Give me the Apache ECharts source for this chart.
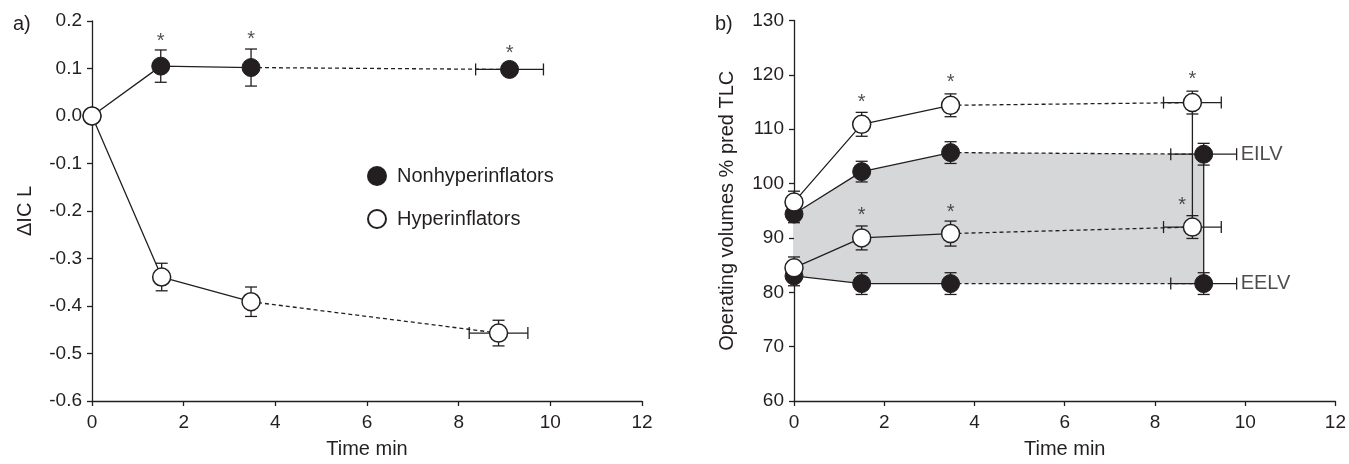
<!DOCTYPE html>
<html>
<head>
<meta charset="utf-8">
<script src="https://cdn.jsdelivr.net/npm/echarts@6/dist/echarts.min.js"></script>
<style>
html,body{margin:0;padding:0;background:#fff;}
#c{width:1349px;height:464px;}
</style>
</head>
<body>
<div id="c"></div>
<script>
// ---------- Panel a) ΔIC ----------
const timeNonA   = [0, 1.5, 3.47, 9.11];
const timeNonAErr= [0, 0, 0, 0.74];
const dicNon     = [0, 0.105, 0.102, 0.098];
const dicNonErr  = [0, 0.034, 0.039, 0.013];

const timeHypA   = [0, 1.52, 3.47, 8.87];
const timeHypAErr= [0, 0, 0, 0.64];
const dicHyp     = [0, -0.339, -0.391, -0.457];
const dicHypErr  = [0, 0.029, 0.031, 0.027];

const starsA = [[1.5, 0.156], [3.47, 0.162], [9.11, 0.132]];

// ---------- Panel b) operating volumes ----------
const timeNonB    = [0, 1.5, 3.47, 9.08];
const timeNonBErr = [0, 0, 0, 0.73];
const eilvNon     = [94.4, 102.2, 105.7, 105.4];
const eilvNonErr  = [1.6, 1.9, 2.0, 2.0];
const eelvNon     = [83.0, 81.6, 81.6, 81.6];
const eelvNonErr  = [1.8, 2.0, 2.0, 2.0];

const timeHypB    = [0, 1.5, 3.47, 8.83];
const timeHypBErr = [0, 0, 0, 0.64];
const eilvHyp     = [96.6, 110.9, 114.4, 114.9];
const eilvHypErr  = [2.0, 2.2, 2.1, 2.1];
const eelvHyp     = [84.5, 90.0, 90.8, 92.0];
const eelvHypErr  = [2.0, 2.2, 2.3, 2.1];

const starsB = [[1.5, 115.0], [3.47, 118.6], [8.83, 119.2], [1.5, 94.1], [3.47, 94.7], [8.6, 95.9]];
const volLabels = [[9.9, 105.4, 'EILV'], [9.9, 81.6, 'EELV']];

// ---------- styling ----------
const INK = '#231f20';
const FONT = "'Liberation Sans', Arial, Helvetica, sans-serif";
const LW = 1.3;

function pts(xs, ys, from, to) {
  const out = [];
  for (let i = from; i <= to; i++) out.push([xs[i], ys[i]]);
  return out;
}
function errData(xs, ys, exs, eys) {
  return xs.map((x, i) => [x, ys[i], exs[i], eys[i]]);
}
function errRender(params, api) {
  const x = api.value(0), y = api.value(1), ex = api.value(2), ey = api.value(3);
  const st = { stroke: INK, lineWidth: LW };
  const cap = 6;
  const ch = [];
  if (ey > 0) {
    const t = api.coord([x, y + ey]), b = api.coord([x, y - ey]);
    ch.push({ type: 'line', shape: { x1: t[0], y1: t[1], x2: b[0], y2: b[1] }, style: st });
    ch.push({ type: 'line', shape: { x1: t[0] - cap, y1: t[1], x2: t[0] + cap, y2: t[1] }, style: st });
    ch.push({ type: 'line', shape: { x1: b[0] - cap, y1: b[1], x2: b[0] + cap, y2: b[1] }, style: st });
  }
  if (ex > 0) {
    const l = api.coord([x - ex, y]), r = api.coord([x + ex, y]);
    ch.push({ type: 'line', shape: { x1: l[0], y1: l[1], x2: r[0], y2: r[1] }, style: st });
    ch.push({ type: 'line', shape: { x1: l[0], y1: l[1] - cap, x2: l[0], y2: l[1] + cap }, style: st });
    ch.push({ type: 'line', shape: { x1: r[0], y1: r[1] - cap, x2: r[0], y2: r[1] + cap }, style: st });
  }
  return { type: 'group', children: ch };
}
function errSeries(idx, data) {
  return { type: 'custom', xAxisIndex: idx, yAxisIndex: idx, renderItem: errRender, data: data, clip: false, z: 2, silent: true };
}
function lineSeries(idx, data, dashed) {
  return { type: 'line', xAxisIndex: idx, yAxisIndex: idx, data: data, symbol: 'none', z: 3, silent: true,
    lineStyle: { color: INK, width: LW, type: dashed ? [4, 3] : 'solid' } };
}
function markerSeries(idx, name, data, open, z) {
  return { type: 'scatter', name: name, xAxisIndex: idx, yAxisIndex: idx, data: data, symbol: 'circle', symbolSize: 18, z: z,
    itemStyle: open ? { color: '#ffffff', borderColor: INK, borderWidth: 1.5, opacity: 1 } : { color: INK, borderColor: INK, borderWidth: 1, opacity: 1 } };
}
function starSeries(idx, data) {
  return { type: 'scatter', xAxisIndex: idx, yAxisIndex: idx, data: data, symbolSize: 0, z: 6, silent: true,
    label: { show: true, position: 'inside', formatter: '*', color: INK, fontSize: 20, fontFamily: FONT } };
}
function xAxis(gi) {
  return { type: 'value', gridIndex: gi, min: 0, max: 12, interval: 2, name: 'Time min', nameLocation: 'middle', nameGap: 38,
    nameTextStyle: { fontSize: 20, color: INK, fontFamily: FONT },
    axisLine: { show: true, onZero: false, lineStyle: { color: INK, width: LW } },
    axisTick: { show: true, inside: false, length: 5, lineStyle: { color: INK, width: LW } },
    axisLabel: { fontSize: 19, color: INK, fontFamily: FONT, margin: 12, formatter: v => String(v) },
    splitLine: { show: false } };
}
function yAxis(gi, min, max, interval, name, fmt) {
  return { type: 'value', gridIndex: gi, min: min, max: max, interval: interval, name: name, nameLocation: 'middle', nameGap: 57,
    nameTextStyle: { fontSize: 20, color: INK, fontFamily: FONT },
    axisLine: { show: true, onZero: false, lineStyle: { color: INK, width: LW } },
    axisTick: { show: true, inside: false, length: 5, lineStyle: { color: INK, width: LW } },
    axisLabel: { fontSize: 19, color: INK, fontFamily: FONT, margin: 10, formatter: fmt },
    splitLine: { show: false } };
}

// gray area between nonhyperinflator EILV and EELV
const areaPts = timeNonB.map((t, i) => [t, eilvNon[i]])
  .concat(timeNonB.map((t, i) => [t, eelvNon[i]]).reverse());

const chart = echarts.init(document.getElementById('c'), null, { renderer: 'canvas' });
chart.setOption({
  animation: false,
  backgroundColor: '#ffffff',
  textStyle: { fontFamily: FONT, color: INK },
  grid: [
    { left: 92, top: 21, width: 550, height: 384 },
    { left: 794, top: 20.5, width: 549, height: 383 }
  ],
  xAxis: [xAxis(0), xAxis(1)],
  yAxis: [
    yAxis(0, -0.6, 0.2, 0.1, 'ΔIC L', v => (Math.abs(v) < 1e-9 ? 0 : v).toFixed(1)),
    yAxis(1, 60, 130, 10, 'Operating volumes % pred TLC', v => String(Math.round(v)))
  ],
  legend: {
    data: ['Nonhyperinflators', 'Hyperinflators'],
    orient: 'vertical', left: 367, top: 166, itemWidth: 18, itemHeight: 18, itemGap: 23, padding: 0,
    icon: 'circle', selectedMode: false,
    textStyle: { fontSize: 20, color: INK, fontFamily: FONT, padding: [0, 0, 0, 6] }
  },
  graphic: [
    { type: 'text', left: 13, top: 14, style: { text: 'a)', fontSize: 20, fill: INK, fontFamily: FONT } },
    { type: 'text', left: 715, top: 14, style: { text: 'b)', fontSize: 20, fill: INK, fontFamily: FONT } }
  ],
  series: [
    // ---- panel a ----
    errSeries(0, errData(timeNonA, dicNon, timeNonAErr, dicNonErr)),
    errSeries(0, errData(timeHypA, dicHyp, timeHypAErr, dicHypErr)),
    lineSeries(0, pts(timeNonA, dicNon, 0, 2), false),
    lineSeries(0, pts(timeNonA, dicNon, 2, 3), true),
    lineSeries(0, pts(timeHypA, dicHyp, 0, 2), false),
    lineSeries(0, pts(timeHypA, dicHyp, 2, 3), true),
    markerSeries(0, 'Nonhyperinflators', pts(timeNonA, dicNon, 0, 3), false, 4),
    markerSeries(0, 'Hyperinflators', pts(timeHypA, dicHyp, 0, 3), true, 5),
    starSeries(0, starsA),
    // ---- panel b ----
    { type: 'custom', xAxisIndex: 1, yAxisIndex: 1, z: 1, silent: true, clip: false, data: areaPts,
      renderItem: function (params, api) {
        if (params.dataIndex !== 0) return null;
        const poly = areaPts.map(p => api.coord(p));
        return { type: 'polygon', shape: { points: poly }, style: { fill: '#d6d7d9' } };
      } },
    errSeries(1, errData(timeNonB, eilvNon, timeNonBErr, eilvNonErr)),
    errSeries(1, errData(timeNonB, eelvNon, timeNonBErr, eelvNonErr)),
    errSeries(1, errData(timeHypB, eilvHyp, timeHypBErr, eilvHypErr)),
    errSeries(1, errData(timeHypB, eelvHyp, timeHypBErr, eelvHypErr)),
    lineSeries(1, pts(timeNonB, eilvNon, 0, 2), false),
    lineSeries(1, pts(timeNonB, eilvNon, 2, 3), true),
    lineSeries(1, pts(timeNonB, eelvNon, 0, 2), false),
    lineSeries(1, pts(timeNonB, eelvNon, 2, 3), true),
    lineSeries(1, pts(timeHypB, eilvHyp, 0, 2), false),
    lineSeries(1, pts(timeHypB, eilvHyp, 2, 3), true),
    lineSeries(1, pts(timeHypB, eelvHyp, 0, 2), false),
    lineSeries(1, pts(timeHypB, eelvHyp, 2, 3), true),
    // vertical connectors at the final time point
    lineSeries(1, [[timeNonB[3], eilvNon[3]], [timeNonB[3], eelvNon[3]]], false),
    lineSeries(1, [[timeHypB[3], eilvHyp[3]], [timeHypB[3], eelvHyp[3]]], false),
    markerSeries(1, 'EILV non', pts(timeNonB, eilvNon, 0, 3), false, 4),
    markerSeries(1, 'EELV non', pts(timeNonB, eelvNon, 0, 3), false, 4),
    markerSeries(1, 'EILV hyp', pts(timeHypB, eilvHyp, 0, 3), true, 5),
    markerSeries(1, 'EELV hyp', pts(timeHypB, eelvHyp, 0, 3), true, 5),
    starSeries(1, starsB),
    { type: 'scatter', xAxisIndex: 1, yAxisIndex: 1, data: volLabels, symbolSize: 0, z: 6, silent: true, clip: false,
      label: { show: true, position: 'right', distance: 0, formatter: p => p.data[2], color: INK, fontSize: 20, fontFamily: FONT } }
  ]
});
</script>
</body>
</html>
